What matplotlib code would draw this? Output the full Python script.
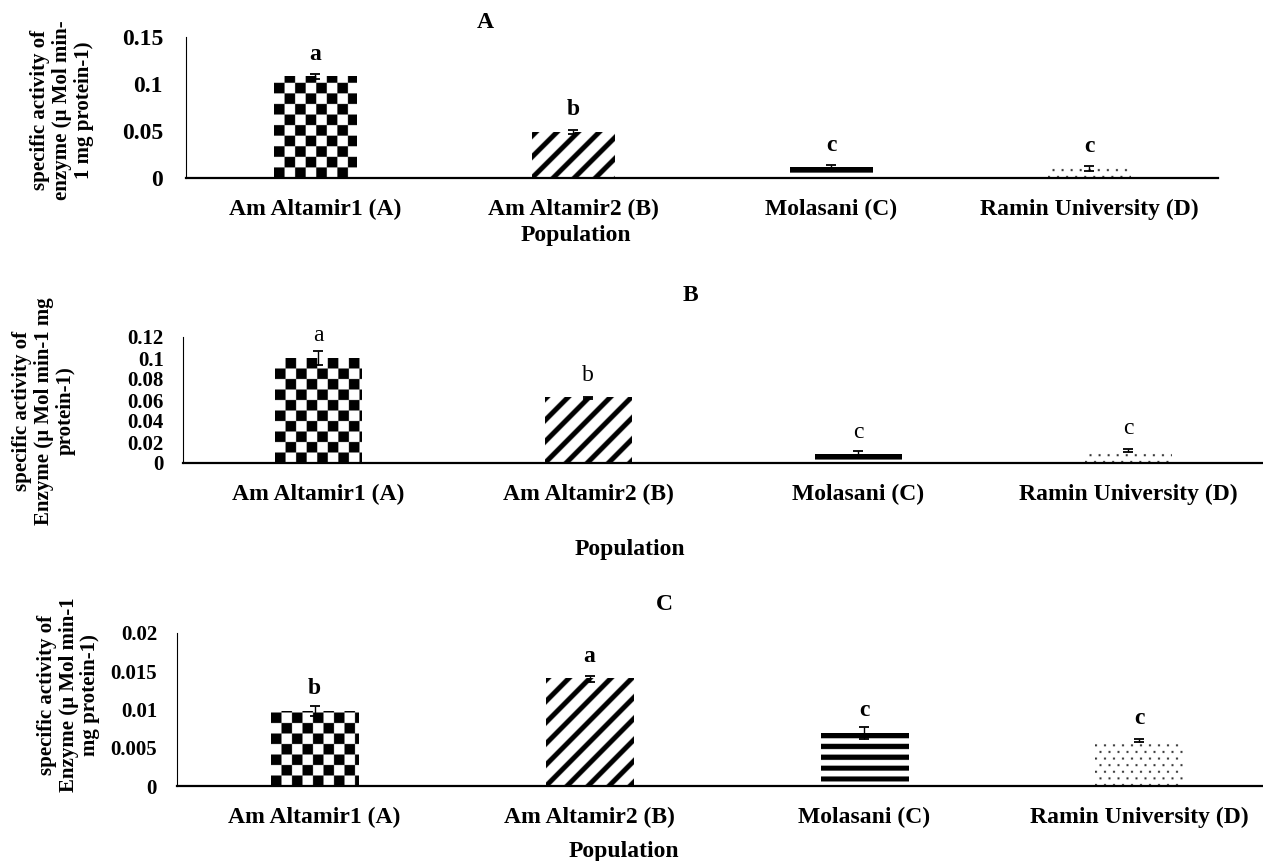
import numpy as np
import matplotlib
matplotlib.use("Agg")
import matplotlib.pyplot as plt

plt.rcParams['font.family'] = ['Liberation Serif', 'DejaVu Serif']

categories = ["Am Altamir1 (A)", "Am Altamir2 (B)", "Molasani (C)", "Ramin University (D)"]

vals_A = [0.108, 0.049, 0.011, 0.010]
err_A = [0.003, 0.002, 0.003, 0.003]
letters_A = ["a", "b", "c", "c"]
ticks_A = [0, 0.05, 0.1, 0.15]
ticklabels_A = ["0", "0.05", "0.1", "0.15"]

vals_B = [0.100, 0.062, 0.008, 0.012]
err_B = [0.007, 0.001, 0.003, 0.0015]
letters_B = ["a", "b", "c", "c"]
ticks_B = [0, 0.02, 0.04, 0.06, 0.08, 0.1, 0.12]
ticklabels_B = ["0", "0.02", "0.04", "0.06", "0.08", "0.1", "0.12"]

vals_C = [0.0098, 0.0140, 0.0069, 0.0059]
err_C = [0.0007, 0.0004, 0.0008, 0.0002]
letters_C = ["b", "a", "c", "c"]
ticks_C = [0, 0.005, 0.01, 0.015, 0.02]
ticklabels_C = ["0", "0.005", "0.01", "0.015", "0.02"]

patterns = ["checker", "diagonal", "horizontal", "dots"]

ylabel_A = "specific activity of\nenzyme (\u00b5 Mol min-\n1 mg protein-1)"
ylabel_B = "specific activity of\nEnzyme (\u00b5 Mol min-1 mg\nprotein-1)"
ylabel_C = "specific activity of\nEnzyme (\u00b5 Mol min-1\nmg protein-1)"

W, H = 1263, 861
fig = plt.figure(figsize=(W / 100, H / 100), dpi=100)
SS = 4


def make_texture(kind, wpx, hpx):
    w = max(1, int(round(wpx * SS)))
    h = max(1, int(round(hpx * SS)))
    cols = (np.arange(w)[None, :] + 0.5) * (wpx / w)
    rows_top = (np.arange(h)[:, None] + 0.5) * (hpx / h)
    rows_bot = hpx - rows_top
    if kind == "checker":
        s = 10.5
        m = ((cols // s + rows_bot // s) % 2) == 0
        v = np.where(m, 0.0, 1.0)
    elif kind == "diagonal":
        p = 21.0
        d = (cols - rows_bot) % p
        dist = np.minimum(d, p - d)
        v = np.clip((dist - 3.0) / 1.0, 0, 1)
    elif kind == "horizontal":
        p = 10.8
        d = rows_top % p
        v = np.where(d < 5.2, 0.0, 1.0) + 0 * cols
    else:
        r = rows_bot // 6.5
        off = (r % 2) * 4.5
        dx = (cols - off) % 9
        dy = rows_bot % 6.5
        m = (dx < 2) & (dy < 2)
        v = np.where(m, 0.2, 1.0)
    v = np.broadcast_to(v, (h, w))
    return np.dstack([v, v, v])


def panel(rect_px, vals, errs, letters, ticks, ticklabels, tick_fs, ytpad, letter_bold):
    left, right, top, bottom = rect_px
    ax = fig.add_axes([left / W, 1 - bottom / H, (right - left) / W, (bottom - top) / H])
    x = np.arange(len(categories))
    ax.set_xlim(-0.5, len(categories) - 0.5)
    ax.set_ylim(0, ticks[-1])
    bars = ax.bar(x, vals, width=0.32, color='none', edgecolor='none', zorder=1)
    for b, kind in zip(bars, patterns):
        x0, x1 = b.get_x(), b.get_x() + b.get_width()
        y1 = b.get_height()
        p0 = ax.transData.transform((x0, 0))
        p1 = ax.transData.transform((x1, y1))
        tex = make_texture(kind, abs(p1[0] - p0[0]), abs(p1[1] - p0[1]))
        ax.imshow(tex, extent=(x0, x1, 0, y1), aspect='auto',
                  interpolation='antialiased', interpolation_stage='rgba', zorder=2)
    ax.errorbar(x, vals, yerr=errs, fmt='none', ecolor='black', elinewidth=1.0,
                capsize=3.5, capthick=1.3, zorder=3)
    for xi, v, lt in zip(x, vals, letters):
        ax.annotate(lt, (xi, v), xytext=(0, 16), textcoords='offset points',
                    ha='center', va='center', fontsize=17,
                    fontweight='bold' if letter_bold else 'normal')
    ax.set_xlim(-0.5, len(categories) - 0.5)
    ax.set_ylim(0, ticks[-1])
    ax.set_xticks(x)
    ax.set_xticklabels(categories, fontsize=17, fontweight='bold')
    ax.set_yticks(ticks)
    ax.set_yticklabels(ticklabels, fontsize=tick_fs, fontweight='bold')
    ax.tick_params(axis='both', length=0)
    ax.tick_params(axis='x', pad=15)
    ax.tick_params(axis='y', pad=ytpad)
    for s in ['top', 'right']:
        ax.spines[s].set_visible(False)
    ax.spines['left'].set_linewidth(0.8)
    ax.spines['bottom'].set_linewidth(1.6)
    ax.set_facecolor('none')
    return ax


panel((186, 1218, 37, 177.7), vals_A, err_A, letters_A, ticks_A, ticklabels_A, 17, 16.5, True)
panel((183, 1263, 337, 463), vals_B, err_B, letters_B, ticks_B, ticklabels_B, 15, 13.7, False)
panel((177, 1277, 633, 786), vals_C, err_C, letters_C, ticks_C, ticklabels_C, 15, 14.4, True)


def ftext(xp, yp, s, **kw):
    fig.text(xp / W, 1 - yp / H, s, ha='center', va='center', **kw)


ftext(485, 23, "A", fontsize=17, fontweight='bold')
ftext(690, 295, "B", fontsize=17, fontweight='bold')
ftext(664, 605, "C", fontsize=17, fontweight='bold')

ftext(576, 236, "Population", fontsize=17, fontweight='bold')
ftext(630, 550, "Population", fontsize=17, fontweight='bold')
ftext(624, 852, "Population", fontsize=17, fontweight='bold')

ftext(62, 110, ylabel_A, fontsize=15, fontweight='bold', rotation=90, linespacing=1.1, multialignment='center')
ftext(44, 411, ylabel_B, fontsize=15, fontweight='bold', rotation=90, linespacing=1.1, multialignment='center')
ftext(69, 695, ylabel_C, fontsize=15, fontweight='bold', rotation=90, linespacing=1.1, multialignment='center')

fig.savefig("out.png", dpi=100, facecolor='white')
